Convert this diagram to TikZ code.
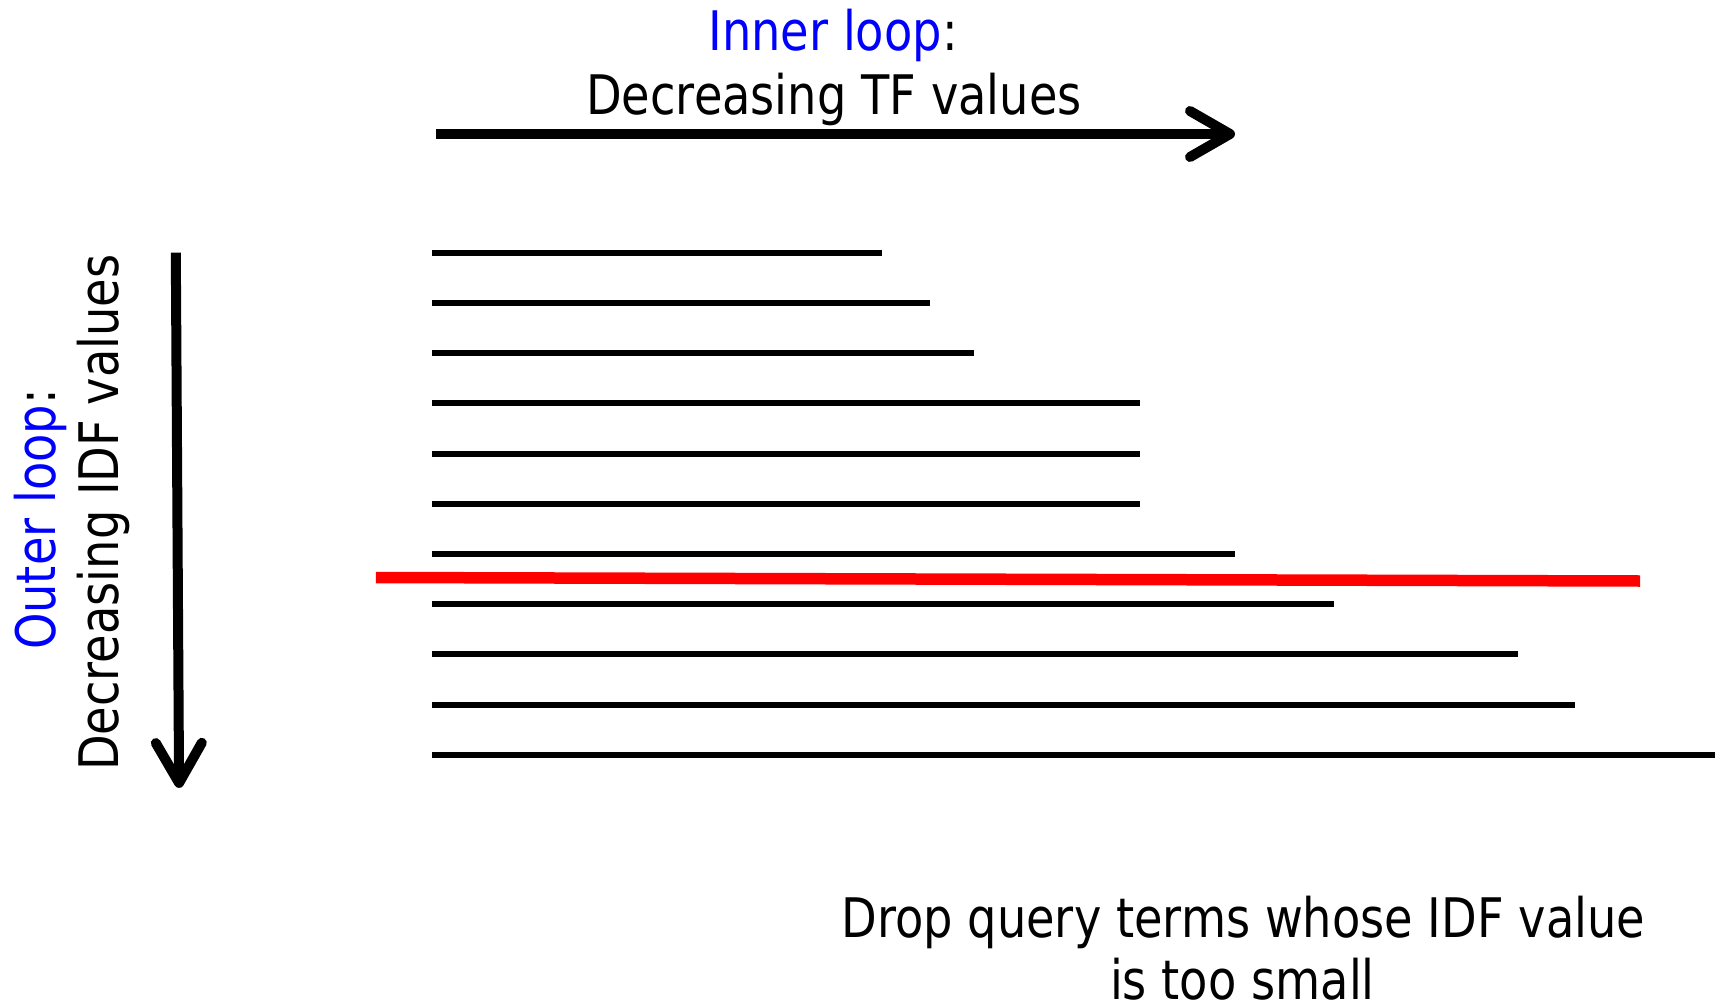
\documentclass[tikz,border=0pt]{standalone}
\usepackage{fontspec}
\setmainfont{DejaVu Sans}[FakeStretch=0.85]
\usetikzlibrary{arrows.meta}
\definecolor{loopblue}{RGB}{0,0,255}
\definecolor{cutred}{RGB}{255,0,0}
\tikzset{
  label text/.style={inner sep=0pt, anchor=base, font=\fontsize{54.5}{60}\selectfont},
  loop arrow/.style={line width=10pt, -{Straight Barb[length=40pt, width=46pt, round]}},
  posting/.style={line width=6pt},
  cutoff/.style={line width=11.5pt, draw=cutred}
}
\begin{document}
\begin{tikzpicture}[x=1pt, y=-1pt]
  \useasboundingbox (0,0) rectangle (1723,1003);

  % inner loop: direction along each posting list
  \node[label text] (inner) at (833,50.5) {\textcolor{loopblue}{Inner loop}:};
  \node[label text] (tf) at (834,114.3) {Decreasing TF values};
  \coordinate (tfstart) at (436,134);
  \coordinate (tfend) at (1235,134);
  \draw[loop arrow] (tfstart) -- (tfend);

  % outer loop: direction over the query terms
  \node[label text, rotate=90] (outer) at (55,519.5) {\textcolor{loopblue}{Outer loop}:};
  \node[label text, rotate=90] (idf) at (118.7,512.6) {Decreasing IDF values};
  \coordinate (idfstart) at (175.8,252.7);
  \coordinate (idfend) at (179.1,787.9);
  \draw[loop arrow] (idfstart) -- (idfend);

  % posting lists, one per query term
  \foreach \i/\len in {0/882.4, 1/929.7, 2/973.6, 3/1139.6, 4/1139.6, 5/1139.6,
                       6/1235.2, 7/1334.1, 8/1517.6, 9/1574.7, 10/1715.4} {
    \draw[posting] (431.9, 252.7+50.2*\i) -- (\len, 252.7+50.2*\i);
  }

  % IDF cut-off
  \coordinate (cutleft) at (375.8,577.5);
  \coordinate (cutright) at (1640,581);
  \draw[cutoff] (cutleft) -- (cutright);

  \node[label text] (drop1) at (1243.4,937) {Drop query terms whose IDF value};
  \node[label text] (drop2) at (1242.4,999.5) {is too small};
\end{tikzpicture}
\end{document}
